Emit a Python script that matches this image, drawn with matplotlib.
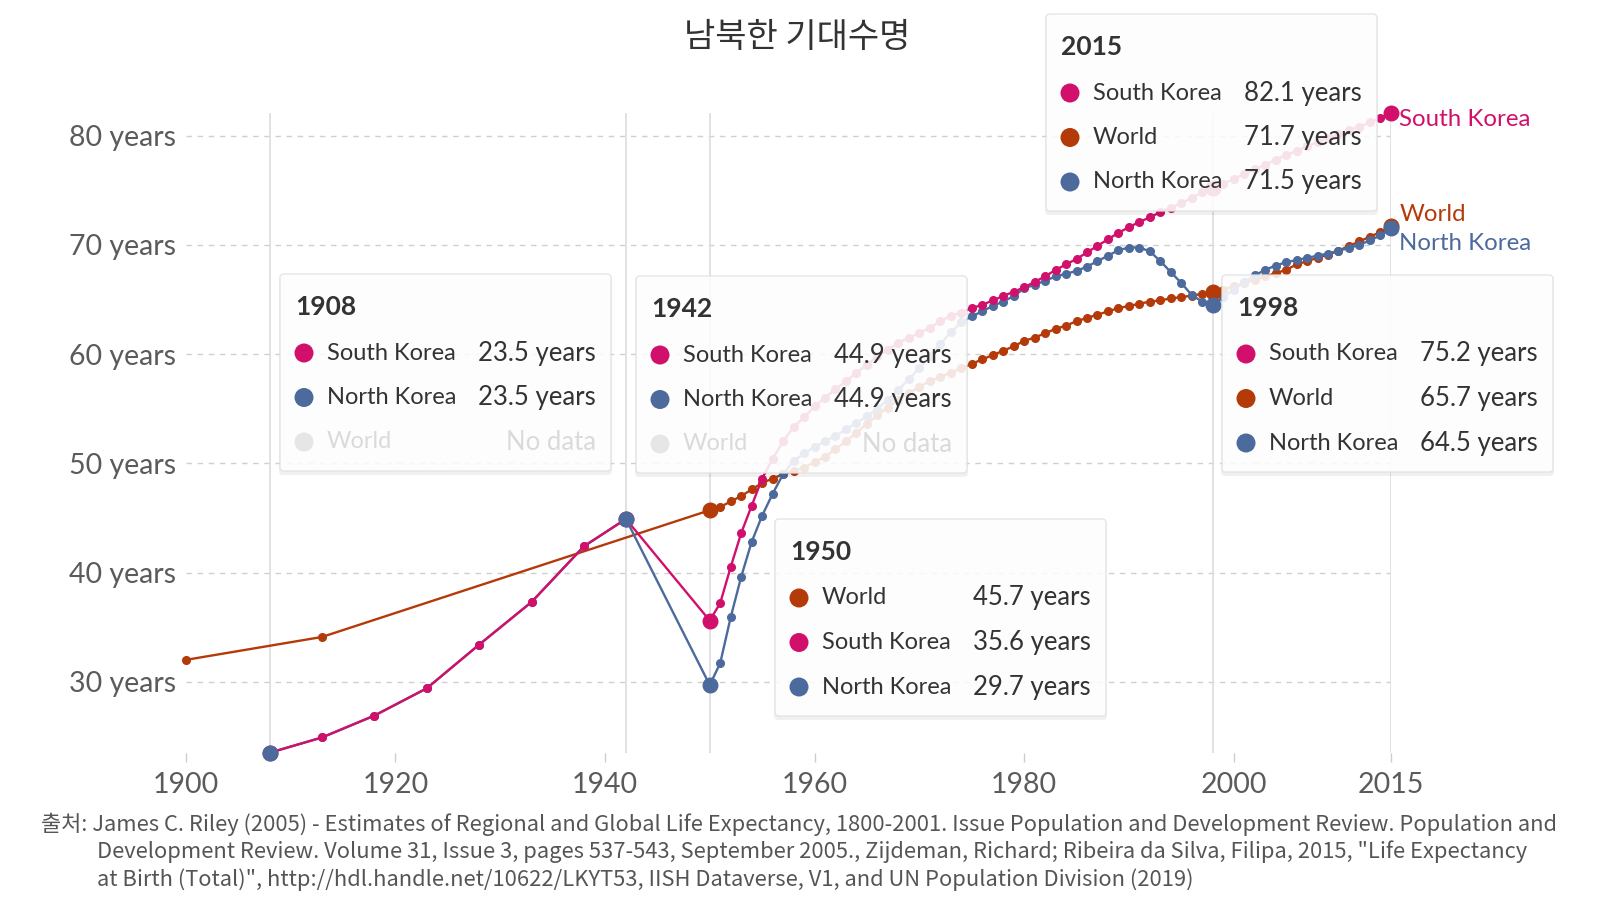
import matplotlib
matplotlib.use('Agg')
import matplotlib.pyplot as plt
from matplotlib.patches import FancyBboxPatch, Circle

plt.rcParams['font.family'] = ['Lato', 'Noto Sans CJK KR', 'DejaVu Sans']

# ---- data (life expectancy, years) ----
sk_years = [1908, 1913, 1918, 1923, 1928, 1933, 1938, 1942] + list(range(1950, 2016))
sk_values = [23.5, 24.9, 26.9, 29.4, 33.4, 37.3, 42.4, 44.9,
             35.6, 37.2, 40.5, 43.6, 46.1, 48.6, 50.4, 52.0, 53.3, 54.2,
             55.2, 56.0, 56.8, 57.5, 58.3, 59.0, 59.8, 60.4, 61.0, 61.5,
             61.9, 62.4, 63.0, 63.5, 63.8, 64.2, 64.5, 64.9, 65.3, 65.7,
             66.1, 66.6, 67.1, 67.7, 68.2, 68.7, 69.3, 69.9, 70.5, 71.1,
             71.6, 72.1, 72.5, 73.0, 73.4, 73.8, 74.3, 74.8, 75.2, 75.6,
             76.0, 76.5, 76.9, 77.3, 77.8, 78.2, 78.6, 79.0, 79.4, 79.8,
             80.1, 80.5, 80.8, 81.2, 81.6, 82.1]

nk_years = [1908, 1913, 1918, 1923, 1928, 1933, 1938, 1942] + list(range(1950, 2016))
nk_values = [23.5, 24.9, 26.9, 29.4, 33.4, 37.3, 42.4, 44.9,
             29.7, 31.7, 35.9, 39.6, 42.8, 45.2, 47.2, 49.0, 50.2, 50.9,
             51.5, 52.0, 52.5, 53.1, 53.7, 54.3, 55.0, 55.8, 56.7, 57.7,
             58.7, 59.8, 60.9, 62.0, 62.9, 63.45, 63.9, 64.4, 64.8, 65.3,
             66.0, 66.35, 66.7, 67.1, 67.35, 67.6, 68.0, 68.5, 69.0, 69.5,
             69.75, 69.75, 69.4, 68.5, 67.5, 66.5, 65.4, 64.8, 64.5, 65.2,
             65.9, 66.6, 67.2, 67.7, 68.1, 68.4, 68.6, 68.8, 69.0, 69.2,
             69.45, 69.7, 70.0, 70.4, 70.85, 71.5]

world_years = [1900, 1913] + list(range(1950, 2016))
world_values = [32.0, 34.1,
                45.7, 46.0, 46.5, 47.0, 47.6, 48.2, 48.6, 49.0, 49.3, 49.6,
                50.1, 50.6, 51.3, 52.0, 52.8, 53.6, 54.4, 55.1, 55.8, 56.4,
                57.0, 57.5, 57.9, 58.3, 58.7, 59.1, 59.5, 59.9, 60.3, 60.7,
                61.2, 61.5, 61.9, 62.3, 62.6, 63.0, 63.3, 63.6, 63.9, 64.2,
                64.4, 64.6, 64.8, 64.9, 65.1, 65.2, 65.35, 65.5, 65.7, 65.9,
                66.2, 66.5, 66.8, 67.1, 67.4, 67.7, 68.2, 68.5, 68.8, 69.1,
                69.45, 69.9, 70.3, 70.75, 71.15, 71.7]

highlight_years = [1908, 1942, 1950, 1998, 2015]
y_ticks = [30, 40, 50, 60, 70, 80]
x_ticks = [1900, 1920, 1940, 1960, 1980, 2000, 2015]

title = '남북한 기대수명'
source = ('출처: James C. Riley (2005) - Estimates of Regional and Global Life Expectancy, 1800-2001. Issue Population and Development Review. Population and\n'
          'Development Review. Volume 31, Issue 3, pages 537-543, September 2005., Zijdeman, Richard; Ribeira da Silva, Filipa, 2015, "Life Expectancy\n'
          'at Birth (Total)", http://hdl.handle.net/10622/LKYT53, IISH Dataverse, V1, and UN Population Division (2019)')

series = {
    'South Korea': (sk_years, sk_values, '#d1106c'),
    'World': (world_years, world_values, '#b43a0a'),
    'North Korea': (nk_years, nk_values, '#4c6a9c'),
}
draw_order = ['World', 'North Korea', 'South Korea']
dot_order = ['World', 'South Korea', 'North Korea']

fig = plt.figure(figsize=(16, 9), dpi=100)
ax = fig.add_axes([0.1161, 0.1636, 0.7532, 0.7113])
ax.set_xlim(1900, 2015)
ax.set_ylim(23.5, 82.1)

for yr in highlight_years:
    ax.axvline(yr, color='#dddddd', lw=1.2, zorder=1)

for i, name in enumerate(draw_order):
    xs, ys, col = series[name]
    ax.plot(xs, ys, color=col, lw=1.7, marker='o', ms=5.5, zorder=3 + i, clip_on=False)

for i, name in enumerate(dot_order):
    xs, ys, col = series[name]
    for yr in highlight_years:
        if yr in xs:
            ax.plot(yr, ys[xs.index(yr)], 'o', color=col, ms=10.5, zorder=7 + i, clip_on=False)

ax.set_yticks(y_ticks)
ax.set_yticklabels([f'{v} years' for v in y_ticks])
ax.set_xticks(x_ticks)
ax.set_xticklabels([str(v) for v in x_ticks])
ax.tick_params(axis='y', length=0, pad=7, labelsize=20.5, labelcolor='#5b5b5b')
ax.tick_params(axis='x', length=6.5, width=1, color='#cccccc', pad=7,
               labelsize=20.5, labelcolor='#5b5b5b')
ax.yaxis.grid(True, linestyle=(0, (4, 4)), color='#d0d0d0', lw=1)
ax.set_axisbelow(True)
for s in ax.spines.values():
    s.set_visible(False)

# end labels
label_offsets = {'South Korea': -4.8, 'World': 8.4, 'North Korea': -11}
for name, (xs, ys, col) in series.items():
    ax.annotate(name, (xs[-1], ys[-1]), xytext=(6, label_offsets[name]),
                textcoords='offset points', va='center', ha='left',
                fontsize=17.3, color=col, annotation_clip=False)

# overlay in pixel coordinates for title, tooltips, source
ov = fig.add_axes([0, 0, 1, 1], zorder=10)
ov.set_xlim(0, 1600)
ov.set_ylim(900, 0)
ov.axis('off')
ov.patch.set_alpha(0)

ov.text(797, 38, title, ha='center', va='center', fontsize=24.5, color='#333333',
        family=['Noto Sans CJK KR'])

box_pos = {1908: (280, 274), 1942: (636, 276), 1950: (775, 519),
           1998: (1222, 275), 2015: (1046, 14)}
bw, bh = 331, 197
for yr, (bx, by) in box_pos.items():
    ov.add_patch(FancyBboxPatch((bx - 1, by + 1), bw + 2, bh + 3,
                                boxstyle='round,pad=0,rounding_size=4',
                                fc='black', ec='none', alpha=0.06))
    ov.add_patch(FancyBboxPatch((bx, by), bw, bh, boxstyle='round,pad=0,rounding_size=4',
                                fc='white', ec='#e2e2e2', lw=1, alpha=0.88))
    ov.text(bx + 15, by + 33, str(yr), ha='left', va='center', fontsize=19,
            fontweight='bold', color='#333333')
    rows = []
    for name in series:
        xs, ys, col = series[name]
        if yr in xs:
            rows.append((name, ys[xs.index(yr)], col))
    rows.sort(key=lambda r: -r[1])
    for name in series:
        if yr not in series[name][0]:
            rows.append((name, None, None))
    for j, (name, val, col) in enumerate(rows):
        ry = by + 79 + 44.5 * j
        if val is None:
            dot_c, txt_c, vtxt = '#e6e6e6', '#dadada', 'No data'
        else:
            dot_c, txt_c, vtxt = col, '#333333', f'{val:.1f} years'
        ov.add_patch(Circle((bx + 24, ry), 9.5, fc=dot_c, ec='none'))
        ov.text(bx + 47, ry, name, ha='left', va='center', fontsize=17, color=txt_c)
        ov.text(bx + 316, ry, vtxt, ha='right', va='center', fontsize=18.5, color=txt_c)

ov.text(41, 824, source.split('\n')[0], ha='left', va='center', fontsize=15.8,
        color='#555555', family=['Noto Sans CJK KR'])
for k, line in enumerate(source.split('\n')[1:]):
    ov.text(97, 852 + 27.5 * k, line, ha='left', va='center', fontsize=15.8,
            color='#555555', family=['Noto Sans CJK KR'])

fig.savefig('out.png', dpi=100)
